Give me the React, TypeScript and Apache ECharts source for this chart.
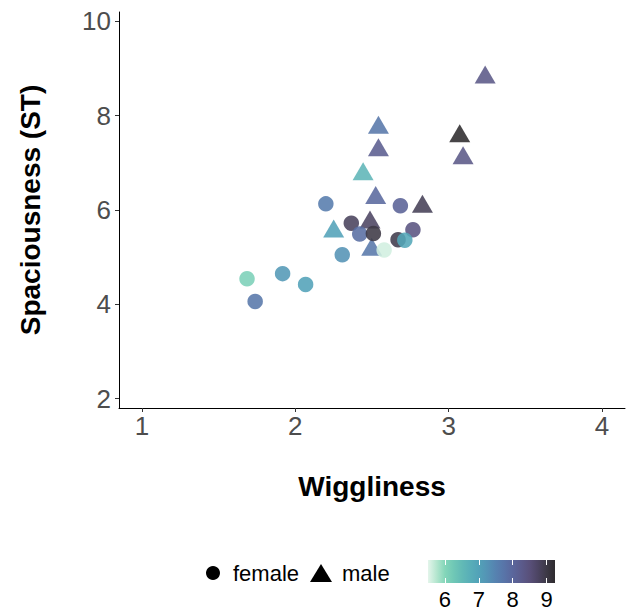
import React, { useEffect, useRef } from "react";
import * as echarts from "echarts";

const FONT = "'Liberation Sans', Arial, sans-serif";

// Female points (circles)
const femaleX = [2.199, 2.685, 2.365, 2.767, 2.42, 2.509, 2.67, 2.714, 2.579, 2.306, 1.917, 1.685, 2.067, 1.738];
const femaleY = [6.13, 6.09, 5.72, 5.58, 5.49, 5.5, 5.37, 5.36, 5.15, 5.05, 4.65, 4.54, 4.42, 4.06];
const femaleC = [7.6, 8.1, 8.8, 8.4, 7.85, 9.0, 8.95, 6.9, 5.6, 7.25, 7.15, 6.1, 7.0, 7.7];

// Male points (triangles)
const maleX = [3.238, 3.072, 3.094, 2.542, 2.542, 2.442, 2.524, 2.829, 2.487, 2.25, 2.498];
const maleY = [8.875, 7.63, 7.16, 7.81, 7.33, 6.82, 6.32, 6.13, 5.8, 5.61, 5.22];
const maleC = [8.3, 9.25, 8.3, 7.7, 8.2, 6.6, 7.95, 8.85, 8.75, 7.0, 7.7];

const X_TICKS = [1, 2, 3, 4];
const Y_TICKS = [2, 4, 6, 8, 10];
const COLORBAR_TICKS = [6, 7, 8, 9];
const COLOR_MIN = 5.5;
const COLOR_MAX = 9.25;
const COLOR_RAMP = [
  "#e4f5eb", "#b5e6cf", "#84d6b9", "#70c8b6", "#62bab6", "#58aeb8", "#52a2b8", "#5493b5",
  "#5682b0", "#5874a8", "#5a669c", "#5b5b8c", "#59507a", "#4c4462", "#3d3946", "#2e2b2e",
];

export default function App() {
  const ref = useRef<HTMLDivElement>(null);
  useEffect(() => {
    document.body.style.margin = "0";
    if (!ref.current) return;
    const chart = echarts.init(ref.current, undefined, { renderer: "svg" });
    const female = femaleX.map((x, i) => [x, femaleY[i], femaleC[i]]);
    const male = maleX.map((x, i) => [x, maleY[i], maleC[i]]);
    const stops = COLOR_RAMP.map((c, i) => ({ offset: i / (COLOR_RAMP.length - 1), color: c }));
    const labelStyle = { fontSize: 26, color: "#4d4d4d", fontFamily: FONT };
    const nameStyle = { fontSize: 28, fontWeight: "bold", color: "#000", fontFamily: FONT };
    chart.setOption({
      animation: false,
      grid: [
        { left: 119, right: 10, top: 12, bottom: 202 },
        { left: 428, top: 560, width: 127, height: 25 },
      ],
      xAxis: [
        {
          gridIndex: 0, type: "value", min: 0.85, max: 4.15,
          splitLine: { show: false },
          axisLine: { show: true, onZero: false, lineStyle: { color: "#000", width: 1 } },
          axisTick: { show: true, length: 4, customValues: X_TICKS, lineStyle: { color: "#333" } },
          axisLabel: { ...labelStyle, customValues: X_TICKS, margin: 5 },
          name: "Wiggliness", nameLocation: "middle", nameGap: 64, nameTextStyle: nameStyle,
        },
        {
          gridIndex: 1, type: "value", min: COLOR_MIN, max: COLOR_MAX, position: "bottom", z: 10,
          axisLine: { show: false }, splitLine: { show: false },
          axisTick: { show: true, inside: true, length: 5, customValues: COLORBAR_TICKS, lineStyle: { color: "#fff", width: 1 } },
          axisLabel: { customValues: COLORBAR_TICKS, fontSize: 22, color: "#000", fontFamily: FONT, margin: 5 },
        },
        {
          gridIndex: 1, type: "value", min: COLOR_MIN, max: COLOR_MAX, position: "top", z: 10,
          axisLine: { show: false }, splitLine: { show: false },
          axisTick: { show: true, inside: true, length: 5, customValues: COLORBAR_TICKS, lineStyle: { color: "#fff", width: 1 } },
          axisLabel: { show: false },
        },
      ],
      yAxis: [
        {
          gridIndex: 0, type: "value", min: 1.8, max: 10.2,
          splitLine: { show: false },
          axisLine: { show: true, onZero: false, lineStyle: { color: "#000", width: 1 } },
          axisTick: { show: true, length: 4, customValues: Y_TICKS, lineStyle: { color: "#333" } },
          axisLabel: { ...labelStyle, customValues: Y_TICKS, margin: 8 },
          name: "Spaciousness (ST)", nameLocation: "middle", nameGap: 75, nameRotate: 90, nameTextStyle: nameStyle,
        },
        { gridIndex: 1, type: "value", min: 0, max: 1, show: false },
      ],
      visualMap: {
        type: "continuous", show: false, seriesIndex: [0, 1], dimension: 2,
        min: COLOR_MIN, max: COLOR_MAX, inRange: { color: COLOR_RAMP },
      },
      legend: [
        {
          left: 206, top: 562, padding: 0, itemWidth: 14, itemHeight: 14,
          data: [{ name: "female", icon: "circle", itemStyle: { color: "#000", opacity: 1 } }],
          textStyle: { fontSize: 22, color: "#000", fontFamily: FONT, padding: [0, 0, 0, 8] },
        },
        {
          left: 310, top: 562, padding: 0, itemWidth: 22, itemHeight: 18,
          data: [{ name: "male", icon: "triangle", itemStyle: { color: "#000", opacity: 1 } }],
          textStyle: { fontSize: 22, color: "#000", fontFamily: FONT, padding: [0, 0, 0, 5] },
        },
      ],
      series: [
        {
          name: "male", type: "scatter", xAxisIndex: 0, yAxisIndex: 0,
          symbol: "triangle", symbolSize: [21, 18], data: male,
          itemStyle: { opacity: 0.88 },
        },
        {
          name: "female", type: "scatter", xAxisIndex: 0, yAxisIndex: 0,
          symbol: "circle", symbolSize: 15.5, data: female,
          itemStyle: { opacity: 0.88 },
        },
        {
          type: "custom", xAxisIndex: 1, yAxisIndex: 1, z: 1,
          data: [[COLOR_MIN, 0, COLOR_MAX, 1]],
          encode: { x: [0, 2], y: [1, 3] },
          renderItem: (params: any, api: any) => {
            const p0 = api.coord([api.value(0), api.value(1)]);
            const p1 = api.coord([api.value(2), api.value(3)]);
            return {
              type: "rect",
              shape: { x: p0[0], y: p1[1], width: p1[0] - p0[0], height: p0[1] - p1[1] },
              style: { fill: new echarts.graphic.LinearGradient(0, 0, 1, 0, stops) },
            };
          },
        },
      ],
    });
    return () => chart.dispose();
  }, []);
  return <div ref={ref} style={{ width: 635, height: 610 }} />;
}
